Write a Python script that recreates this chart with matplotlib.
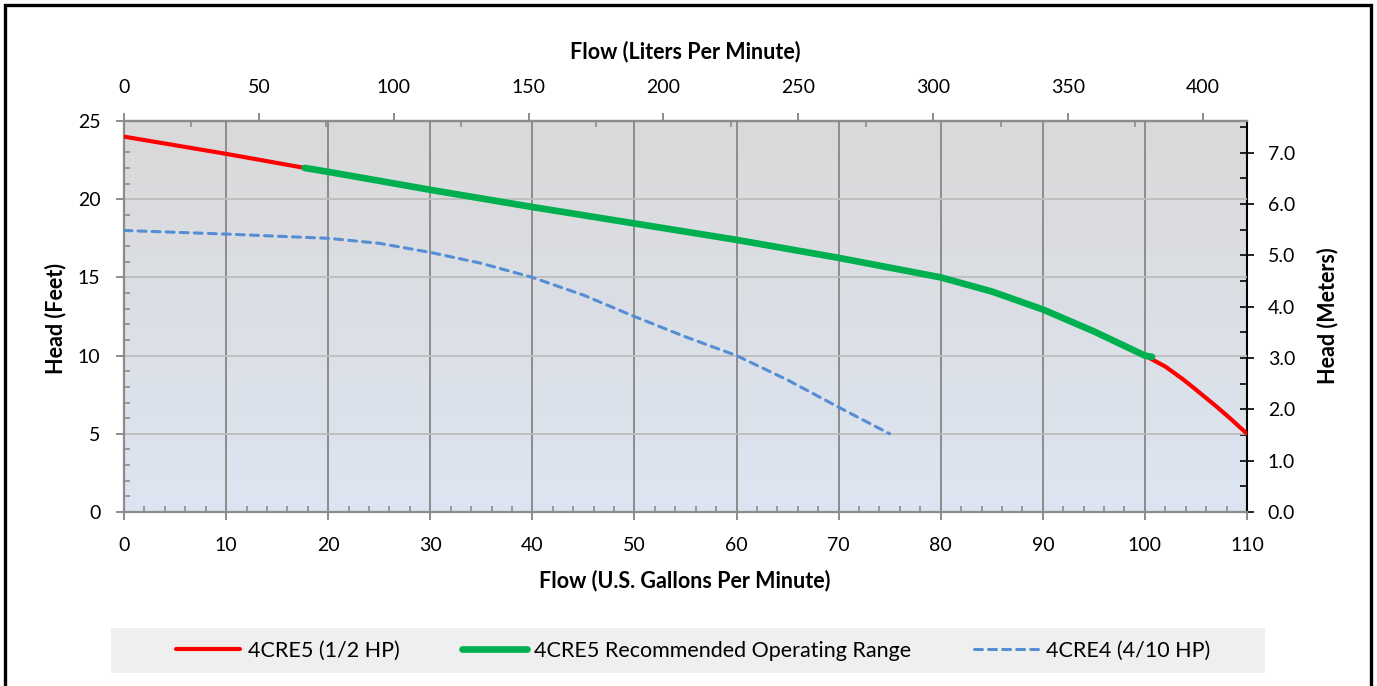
import numpy as np
import matplotlib
matplotlib.use("Agg")
import matplotlib.pyplot as plt
from matplotlib.patches import Rectangle
from matplotlib.ticker import MultipleLocator, FixedLocator, FormatStrFormatter

plt.rcParams['font.family'] = ['Lato', 'DejaVu Sans']

# ---- data ----
gpm_4cre5 = [0, 10, 17.7, 20, 30, 40, 50, 60, 70, 80, 85, 90, 95, 100, 102, 103.7, 105, 107, 108.5, 110]
head_4cre5 = [24.0, 22.9, 22.0, 21.75, 20.6, 19.5, 18.45, 17.4, 16.25, 15.0, 14.1, 12.95, 11.55, 10.0,
              9.3, 8.5, 7.82, 6.75, 5.9, 5.0]

gpm_range = [17.7, 20, 30, 40, 50, 60, 70, 80, 85, 90, 95, 100, 100.7]
head_range = [22.0, 21.75, 20.6, 19.5, 18.45, 17.4, 16.25, 15.0, 14.1, 12.95, 11.55, 10.0, 9.92]

gpm_4cre4 = [0, 10, 20, 25, 30, 35, 40, 45, 50, 55, 60, 65, 70, 75]
head_4cre4 = [18.0, 17.77, 17.5, 17.18, 16.6, 15.9, 15.0, 13.87, 12.5, 11.2, 10.0, 8.44, 6.7, 5.0]

lpm_ticks = [0, 50, 100, 150, 200, 250, 300, 350, 400]
meter_ticks = [0.0, 1.0, 2.0, 3.0, 4.0, 5.0, 6.0, 7.0]

labels = ["4CRE5 (1/2 HP)", "4CRE5 Recommended Operating Range", "4CRE4 (4/10 HP)"]
GPM_TO_LPM = 3.78541
FT_TO_M = 0.3048

W, H = 1377, 686
fig = plt.figure(figsize=(W / 100, H / 100), dpi=100)
fig.patch.set_facecolor('white')

L, R, T, B = 124, 1247, 121, 512
ax = fig.add_axes([L / W, 1 - B / H, (R - L) / W, (B - T) / H])
ax.patch.set_visible(False)

# gradient background
grad = np.linspace(0, 1, 256).reshape(-1, 1)
top_c = np.array([217, 217, 217]) / 255
bot_c = np.array([221, 229, 242]) / 255
img = top_c[None, None, :] * (1 - grad[:, :, None]) + bot_c[None, None, :] * grad[:, :, None]
ax.imshow(img, extent=[0, 1, 0, 1], transform=ax.transAxes, aspect='auto', zorder=-5)

ax.set_xlim(0, 110)
ax.set_ylim(0, 25)

# grid
for xv in range(10, 110, 10):
    ax.axvline(xv, color='#8c8c8c', lw=1.4, zorder=1)
for yv in range(5, 25, 5):
    ax.axhline(yv, color='#bdbdbd', lw=1.3, zorder=1)

l1, = ax.plot(gpm_4cre5, head_4cre5, color='#FF0000', lw=3.0, solid_capstyle='round',
              solid_joinstyle='round', zorder=3)
l2, = ax.plot(gpm_range, head_range, color='#00B050', lw=4.8, solid_capstyle='round',
              solid_joinstyle='round', zorder=4)
l3, = ax.plot(gpm_4cre4, head_4cre4, color='#558ED5', lw=2.2, dashes=(2.6, 2.0),
              dash_capstyle='round', zorder=3)

spine_c = '#8c8c8c'
for s in ['left', 'bottom', 'top']:
    ax.spines[s].set_color(spine_c)
    ax.spines[s].set_linewidth(1.6)
ax.spines['right'].set_visible(False)

ax.xaxis.set_major_locator(MultipleLocator(10))
ax.xaxis.set_minor_locator(MultipleLocator(2))
ax.yaxis.set_major_locator(MultipleLocator(5))
ax.yaxis.set_minor_locator(MultipleLocator(1))
ax.tick_params(axis='both', which='major', direction='out', length=6, width=1.4,
               color=spine_c, labelsize=14, labelcolor='black')
ax.tick_params(axis='x', which='major', pad=12)
ax.tick_params(axis='y', which='major', pad=11)
ax.tick_params(axis='both', which='minor', direction='in', length=4, width=1.2, color=spine_c)

# top axis (liters per minute)
secx = ax.secondary_xaxis('top', functions=(lambda g: g * GPM_TO_LPM, lambda l: l / GPM_TO_LPM))
secx.xaxis.set_major_locator(FixedLocator(lpm_ticks))
secx.xaxis.set_minor_locator(FixedLocator([v + 25 for v in lpm_ticks]))
secx.tick_params(which='major', direction='out', length=6, width=1.4, color=spine_c,
                 labelsize=14, pad=12)
secx.tick_params(which='minor', direction='in', length=4, width=1.2, color=spine_c)
secx.spines['top'].set_color(spine_c)
secx.spines['top'].set_linewidth(1.6)

# right axis (meters)
secy = ax.secondary_yaxis('right', functions=(lambda f: f * FT_TO_M, lambda m: m / FT_TO_M))
secy.yaxis.set_major_locator(FixedLocator(meter_ticks))
secy.yaxis.set_minor_locator(FixedLocator([v + 0.5 for v in meter_ticks]))
secy.yaxis.set_major_formatter(FormatStrFormatter('%.1f'))
secy.tick_params(which='major', direction='inout', length=10, width=1.2, color='black',
                 labelsize=14, pad=10)
secy.tick_params(which='minor', direction='in', length=5, width=1.2, color='black')
secy.spines['right'].set_color('black')
secy.spines['right'].set_linewidth(1.5)
for t in secy.yaxis.get_major_ticks() + secy.yaxis.get_minor_ticks():
    t.tick2line.set_linestyle((0, (1, 1.5)))

# axis titles
fs_lab = 15.5
fig.text(685 / W, 1 - 581 / H, "Flow (U.S. Gallons Per Minute)", ha='center', va='center',
         fontsize=fs_lab, fontweight='bold')
fig.text(685 / W, 1 - 52 / H, "Flow (Liters Per Minute)", ha='center', va='center',
         fontsize=fs_lab, fontweight='bold')
fig.text(56 / W, 1 - 318 / H, "Head (Feet)", ha='center', va='center', rotation=90,
         fontsize=fs_lab, fontweight='bold')
fig.text(1328 / W, 1 - 316 / H, "Head (Meters)", ha='center', va='center', rotation=90,
         fontsize=fs_lab, fontweight='bold')

# legend background
fig.patches.append(Rectangle((111 / W, 1 - 673 / H), (1265 - 111) / W, (673 - 628) / H,
                             transform=fig.transFigure, facecolor='#EFEFEF', edgecolor='none',
                             zorder=0))
leg = fig.legend([l1, l2, l3], labels, loc='center', bbox_to_anchor=(693 / W, 1 - 651 / H),
                 ncol=3, frameon=False, fontsize=15.5, handlelength=3.0, handletextpad=0.35,
                 columnspacing=2.9)

# outer border
fig.patches.append(Rectangle((5 / W, -0.02), (1371 - 5) / W, 1 - 5 / H + 0.02,
                             transform=fig.transFigure, facecolor='none', edgecolor='black',
                             linewidth=2.4, zorder=10))

fig.savefig("out.png", dpi=100)
